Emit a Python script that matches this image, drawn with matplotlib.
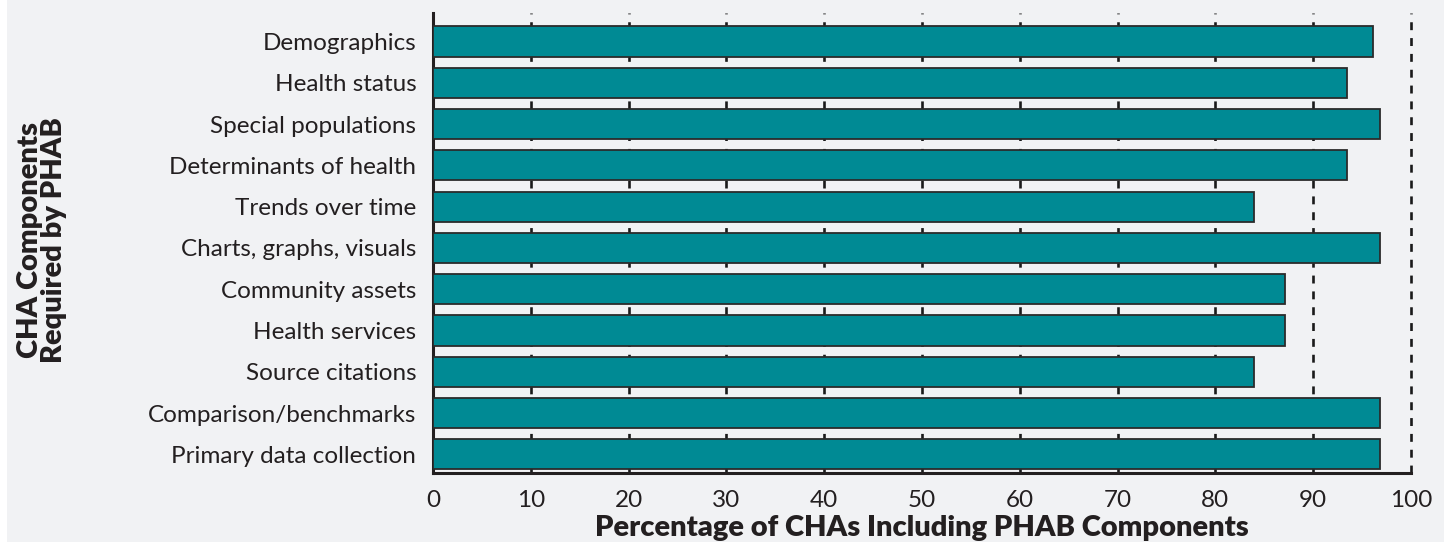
#!/usr/bin/env python3
"""Horizontal bar chart: CHA components required by PHAB."""

import matplotlib

matplotlib.use("Agg")
import matplotlib.pyplot as plt
from matplotlib.patches import Rectangle
import numpy as np

categories = [
    "Demographics",
    "Health status",
    "Special populations",
    "Determinants of health",
    "Trends over time",
    "Charts, graphs, visuals",
    "Community assets",
    "Health services",
    "Source citations",
    "Comparison/benchmarks",
    "Primary data collection",
]
percent = [96.1, 93.5, 96.8, 93.5, 83.9, 96.8, 87.1, 87.1, 83.9, 96.8, 96.8]
x_ticks = [0, 10, 20, 30, 40, 50, 60, 70, 80, 90, 100]

BG = "#F1F2F4"
TEAL = "#008A94"
INK = "#231f20"

plt.rcParams["font.family"] = ["Lato", "DejaVu Sans"]

fig = plt.figure(figsize=(14.5, 5.42), dpi=100, facecolor="white")
fig.patches.append(Rectangle((7 / 1450, 0), 1437 / 1450, 1, transform=fig.transFigure,
                             facecolor=BG, edgecolor="none", zorder=-10))

ax = fig.add_axes([433 / 1450, 1 - 473 / 542, 978 / 1450, 460 / 542])
ax.set_facecolor("none")

y = np.arange(len(categories))
ax.barh(y, percent, height=0.73, color=TEAL, edgecolor="#2b2b2b", linewidth=1.3, zorder=3)

# dashed reference lines sit behind the bars
for xv in x_ticks[1:]:
    ax.axvline(xv, color="#1a1a1a", lw=1.9, ls=(0, (3, 3)), zorder=1, clip_on=False)

ax.set_xlim(0, 100)
ax.set_ylim(len(categories) - 1 + 0.45, -0.69)
ax.set_xticks(x_ticks)
ax.set_yticks(y)
ax.set_yticklabels(categories)
ax.tick_params(axis="both", length=0, labelsize=17.5, colors=INK)
ax.tick_params(axis="x", pad=12)
ax.tick_params(axis="y", pad=12)

for side in ["top", "right"]:
    ax.spines[side].set_visible(False)
for side in ["left", "bottom"]:
    ax.spines[side].set_linewidth(2.2)
    ax.spines[side].set_color(INK)

ax.set_xlabel("Percentage of CHAs Including PHAB Components", fontsize=21,
              fontweight="heavy", color=INK, labelpad=3)
fig.text(42 / 1450, 1 - 240 / 542, "CHA Components\nRequired by PHAB", rotation=90,
         ha="center", va="center", fontsize=21, fontweight="heavy", color=INK,
         linespacing=0.9)

fig.savefig("out.png", dpi=100, facecolor="white")
